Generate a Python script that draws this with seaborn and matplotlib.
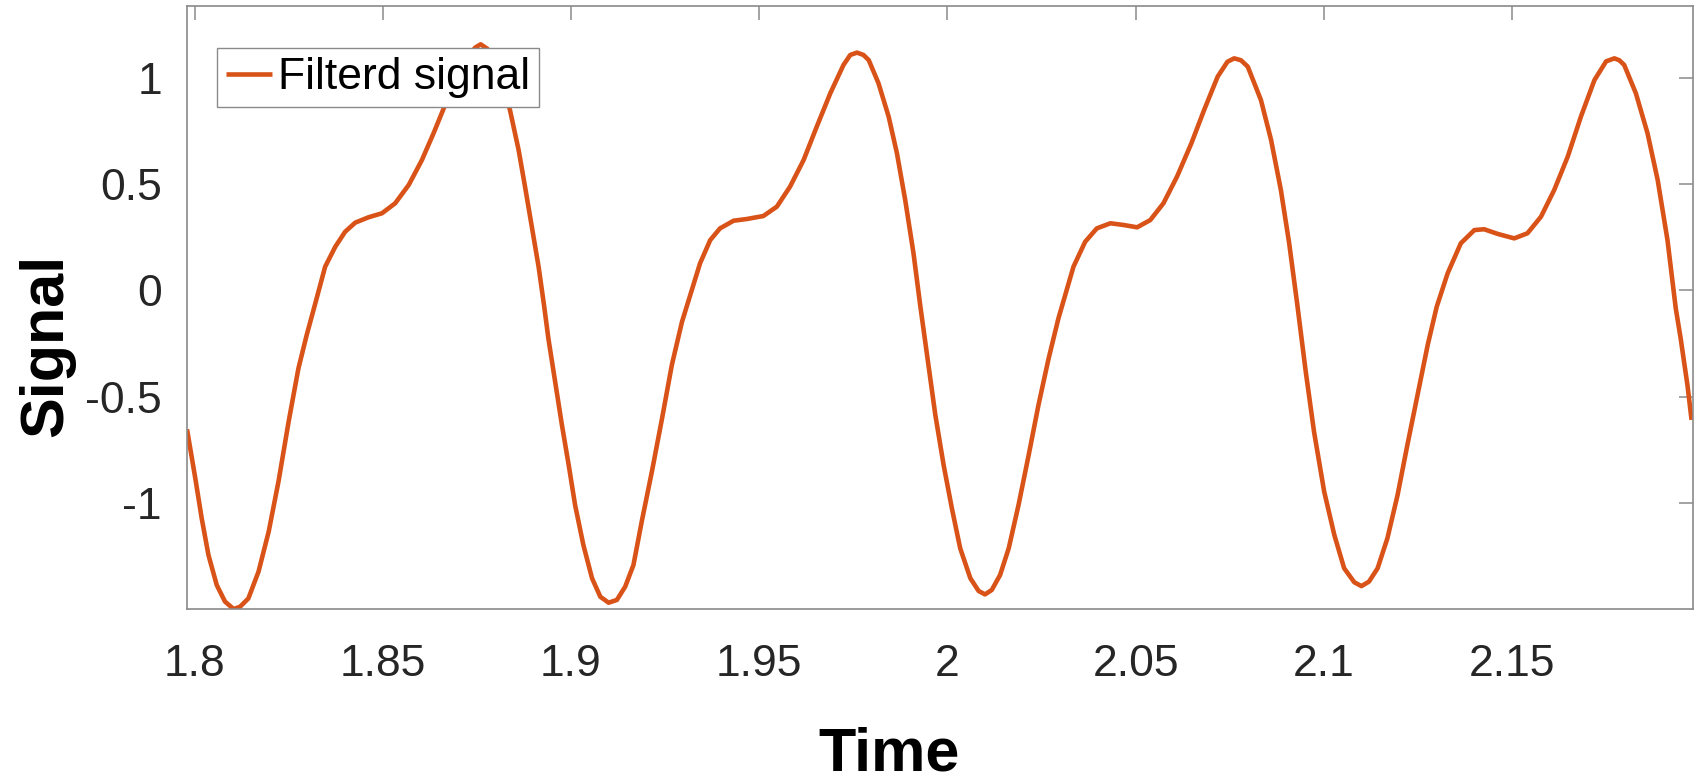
import matplotlib
matplotlib.use("Agg")
import matplotlib.pyplot as plt
import pandas as pd
import seaborn as sns

# ---- data ----
time = [
    1.7980, 1.8002, 1.8019, 1.8037, 1.8059, 1.8081, 1.8104, 1.8121, 1.8143, 1.8170,
    1.8197, 1.8223, 1.8250, 1.8276, 1.8298, 1.8318, 1.8347, 1.8374, 1.8400, 1.8427,
    1.8462, 1.8498, 1.8533, 1.8569, 1.8604, 1.8635, 1.8662, 1.8695, 1.8725, 1.8745,
    1.8760, 1.8778, 1.8805, 1.8838, 1.8861, 1.8878, 1.8896, 1.8914, 1.8929, 1.8940,
    1.8958, 1.8976, 1.8994, 1.9011, 1.9033, 1.9056, 1.9078, 1.9100, 1.9122, 1.9144,
    1.9166, 1.9188, 1.9215, 1.9242, 1.9268, 1.9295, 1.9343, 1.9370, 1.9396,
    1.9432, 1.9467, 1.9511, 1.9547, 1.9582, 1.9618, 1.9653, 1.9689, 1.9724, 1.9742,
    1.9760, 1.9777, 1.9791, 1.9817, 1.9844, 1.9866, 1.9888, 1.9910, 1.9928, 1.9946,
    1.9968, 1.9990,
    2.0012, 2.0034, 2.0061, 2.0083, 2.0100, 2.0118, 2.0140, 2.0163, 2.0189, 2.0216,
    2.0242, 2.0269, 2.0295, 2.0335, 2.0366, 2.0397, 2.0433, 2.0468, 2.0504,
    2.0539, 2.0574, 2.0610, 2.0648, 2.0682, 2.0718, 2.0744, 2.0762, 2.0780, 2.0798,
    2.0833, 2.0860,
    2.0886, 2.0908, 2.0930, 2.0952, 2.0974, 2.1001, 2.1028, 2.1054, 2.1081, 2.1100,
    2.1120, 2.1143, 2.1169, 2.1196, 2.1222, 2.1249, 2.1276, 2.1300, 2.1329, 2.1364,
    2.1400, 2.1426, 2.1462, 2.1506, 2.1541, 2.1577, 2.1612, 2.1648, 2.1683, 2.1719,
    2.1750, 2.1772, 2.1785, 2.1798, 2.1829, 2.1860, 2.1887, 2.1913, 2.1935, 2.1948,
    2.1966, 2.1977,
]
signal = [
    -0.653, -0.883, -1.071, -1.244, -1.385, -1.463, -1.498, -1.487, -1.448, -1.322,
    -1.134, -0.899, -0.617, -0.367, -0.210, -0.080, 0.111, 0.205, 0.275, 0.318,
    0.343, 0.362, 0.409, 0.495, 0.612, 0.738, 0.855, 0.975, 1.085, 1.140,
    1.156, 1.135, 1.040, 0.847, 0.659, 0.487, 0.299, 0.111, -0.077, -0.226,
    -0.430, -0.633, -0.821, -1.009, -1.197, -1.353, -1.440, -1.468, -1.455, -1.393,
    -1.291, -1.087, -0.852, -0.602, -0.351, -0.148, 0.127, 0.236, 0.291,
    0.327, 0.335, 0.349, 0.393, 0.487, 0.612, 0.769, 0.926, 1.059, 1.106,
    1.117, 1.106, 1.082, 0.973, 0.816, 0.644, 0.424, 0.174, -0.073, -0.304,
    -0.586, -0.821,
    -1.025, -1.212, -1.353, -1.413, -1.429, -1.408, -1.338, -1.212, -1.009, -0.774,
    -0.539, -0.320, -0.132, 0.111, 0.228, 0.291, 0.315, 0.307, 0.296,
    0.330, 0.409, 0.534, 0.690, 0.847, 1.004, 1.074, 1.090, 1.081, 1.051,
    0.894, 0.706,
    0.471, 0.221, -0.073, -0.382, -0.664, -0.946, -1.150, -1.306, -1.372, -1.390,
    -1.369, -1.306, -1.165, -0.962, -0.727, -0.492, -0.257, -0.077, 0.080, 0.221,
    0.283, 0.287, 0.265, 0.244, 0.268, 0.346, 0.471, 0.628, 0.816, 0.988,
    1.076, 1.090, 1.081, 1.059, 0.926, 0.738, 0.518, 0.236, -0.085, -0.226,
    -0.445, -0.609,
]
x_ticks = [1.8, 1.85, 1.9, 1.95, 2.0, 2.05, 2.1, 2.15]
x_tick_labels = ["1.8", "1.85", "1.9", "1.95", "2", "2.05", "2.1", "2.15"]
y_ticks = [-1.0, -0.5, 0.0, 0.5, 1.0]
y_tick_labels = ["-1", "-0.5", "0", "0.5", "1"]
series_label = "Filterd signal"
x_label = "Time"
y_label = "Signal"

# ---- style ----
sns.set_style("white")
plt.rcParams["font.family"] = ["Liberation Sans", "DejaVu Sans"]

W, H = 1696, 781
fig = plt.figure(figsize=(W / 100, H / 100), dpi=100)
left, right, top, bottom = 187, 1692.7, 6, 609.3
ax = fig.add_axes([left / W, 1 - bottom / H, (right - left) / W, (bottom - top) / H])

df = pd.DataFrame({x_label: time, y_label: signal})
sns.lineplot(data=df, x=x_label, y=y_label, ax=ax, color="#D95319",
             linewidth=3.3, label=series_label, estimator=None, sort=False)
for ln in ax.get_lines():
    ln.set_solid_joinstyle("round")
    ln.set_solid_capstyle("butt")

ax.set_xlim(1.798, 2.198)
ax.set_ylim(-1.499, 1.336)
ax.set_xticks(x_ticks)
ax.set_xticklabels(x_tick_labels)
ax.set_yticks(y_ticks)
ax.set_yticklabels(y_tick_labels)

axis_grey = "#8a8a8a"
for sp in ax.spines.values():
    sp.set_visible(True)
    sp.set_color(axis_grey)
    sp.set_linewidth(1.2)

ax.tick_params(axis="both", which="major", direction="in", length=10, width=1.1,
               color=axis_grey, top=True, right=True, labelsize=32,
               labelcolor="#262626")
ax.tick_params(axis="x", pad=25)
ax.tick_params(axis="y", pad=18)

ax.set_xlabel(x_label, fontsize=44, fontweight="bold", color="black", va="baseline")
ax.xaxis.set_label_coords(0.466, -0.268)
ax.set_ylabel(y_label, fontsize=44, fontweight="bold", color="black", va="baseline")
ax.yaxis.set_label_coords(-0.083, 0.438)

leg = ax.legend(loc="upper left", bbox_to_anchor=(0.0199, 0.9299), borderaxespad=0,
                fontsize=32, frameon=True, fancybox=False, edgecolor=axis_grey,
                framealpha=1, borderpad=0.2, handlelength=1.04, handletextpad=0.14)
leg.get_frame().set_linewidth(1.0)
for t in leg.get_texts():
    t.set_color("black")

fig.savefig("out.png", dpi=100)
